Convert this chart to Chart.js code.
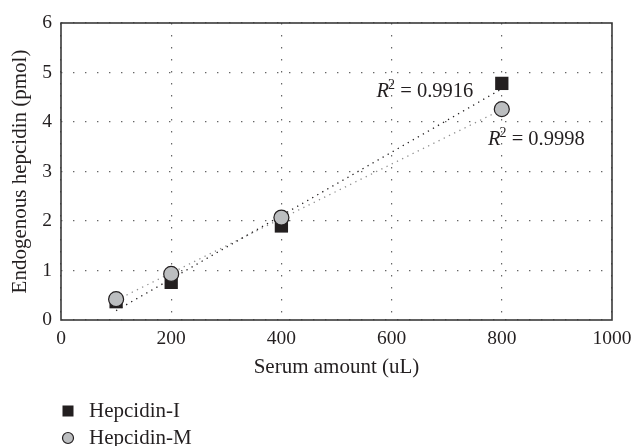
<!DOCTYPE html>
<html>
<head>
<meta charset="utf-8">
<script src="https://cdn.jsdelivr.net/npm/chart.js@4.4.0/dist/chart.umd.min.js"></script>
<style>
  html, body { margin: 0; padding: 0; background: #fff; }
  #wrap { width: 634px; height: 446px; }
</style>
</head>
<body>
<div id="wrap"><canvas id="chart"></canvas></div>
<script>
// values
var serumAmount = [100, 200, 400, 800];
var hepcidinI = [0.37, 0.76, 1.90, 4.78];
var hepcidinM = [0.42, 0.93, 2.07, 4.26];
// trend line end points
var trendX = [100, 800];
var trendI = [0.19, 4.67];
var trendM = [0.40, 4.25];
var r2Labels = ['0.9916', '0.9998'];

var ink = '#231f20';
var grey = '#bcbec0';
var serif = "'Liberation Serif', 'DejaVu Serif', serif";

function toPoints(xs, ys) {
  return xs.map(function(x, i) { return { x: x, y: ys[i] }; });
}

// box round the plot area
var boxPlugin = {
  id: 'box',
  afterDatasetsDraw: function(chart) {
    var a = chart.chartArea, ctx = chart.ctx;
    ctx.save();
    ctx.strokeStyle = '#3a3a3a';
    ctx.lineWidth = 1.6;
    ctx.strokeRect(a.left, a.top, a.right - a.left, a.bottom - a.top);
    ctx.restore();
  }
};

// R^2 labels next to the fits
var r2Plugin = {
  id: 'r2',
  afterDatasetsDraw: function(chart) {
    var ctx = chart.ctx, xs = chart.scales.x, ys = chart.scales.y;
    function label(txt, x, y, align) {
      ctx.save();
      ctx.fillStyle = ink;
      ctx.textBaseline = 'alphabetic';
      var big = 'italic 20.5px ' + serif, small = '14px ' + serif, norm = '20.5px ' + serif;
      ctx.font = big; var wR = ctx.measureText('R').width;
      ctx.font = small; var w2 = ctx.measureText('2').width;
      ctx.font = norm; var rest = ' = ' + txt; var wRest = ctx.measureText(rest).width;
      var total = wR + w2 + wRest;
      var px = xs.getPixelForValue(x), py = ys.getPixelForValue(y);
      if (align === 'right') px -= total;
      ctx.font = big; ctx.fillText('R', px, py);
      ctx.font = small; ctx.fillText('2', px + wR - 1, py - 8);
      ctx.font = norm; ctx.fillText(rest, px + wR + w2 - 1, py);
      ctx.restore();
    }
    label(r2Labels[0], 750, 4.5, 'right');
    label(r2Labels[1], 775, 3.54, 'left');
  }
};

// legend under the chart, stacked
var legendPlugin = {
  id: 'stackLegend',
  afterDraw: function(chart) {
    var ctx = chart.ctx;
    var items = chart.data.datasets.filter(function(d) { return !d.isTrend; });
    items.sort(function(a, b) { return a.legendRank - b.legendRank; });
    items.forEach(function(d, i) {
      var cy = 411 + i * 27, cx = 68;
      ctx.save();
      ctx.fillStyle = d.backgroundColor;
      ctx.strokeStyle = d.borderColor;
      ctx.lineWidth = 1.2;
      if (d.pointStyle === 'rect') {
        ctx.fillRect(cx - 5.5, cy - 5.5, 11, 11);
      } else {
        ctx.beginPath();
        ctx.arc(cx, cy, 5.5, 0, Math.PI * 2);
        ctx.fill();
        ctx.stroke();
      }
      ctx.fillStyle = ink;
      ctx.font = '21px ' + serif;
      ctx.textBaseline = 'middle';
      ctx.fillText(d.label, 89, cy);
      ctx.restore();
    });
  }
};

var ctx = document.getElementById('chart').getContext('2d');

new Chart(ctx, {
  type: 'scatter',
  data: {
    datasets: [{
      label: 'Hepcidin-M',
      data: toPoints(serumAmount, hepcidinM),
      pointStyle: 'circle',
      pointRadius: 7.5,
      pointHoverRadius: 7.5,
      backgroundColor: grey,
      borderColor: ink,
      borderWidth: 1.2,
      order: 0,
      legendRank: 1,
    }, {
      label: 'Hepcidin-I',
      data: toPoints(serumAmount, hepcidinI),
      pointStyle: 'rect',
      pointRadius: 9.4,
      pointHoverRadius: 9.4,
      backgroundColor: ink,
      borderColor: ink,
      borderWidth: 0,
      order: 1,
      legendRank: 0,
    }, {
      label: 'Trend I',
      isTrend: true,
      data: toPoints(trendX, trendI),
      showLine: true,
      pointRadius: 0,
      borderColor: ink,
      borderWidth: 1.3,
      borderDash: [1.3, 4.5],
      order: 2,
    }, {
      label: 'Trend M',
      isTrend: true,
      data: toPoints(trendX, trendM),
      showLine: true,
      pointRadius: 0,
      borderColor: '#8f8f8f',
      borderWidth: 1.3,
      borderDash: [1.3, 4.5],
      order: 3,
    }]
  },
  options: {
    responsive: true,
    maintainAspectRatio: false,
    animation: false,
    events: [],
    layout: { padding: { left: 0, right: 22, top: 23, bottom: 66 } },
    plugins: {
      legend: { display: false },
      tooltip: { enabled: false },
    },
    scales: {
      x: {
        type: 'linear',
        min: 0,
        max: 1000,
        ticks: { stepSize: 200, color: ink, padding: 7, font: { family: serif, size: 19.5 },
          callback: function(v) { return String(v); } },
        grid: { color: '#666', lineWidth: 1.2, drawTicks: false },
        border: { display: false, dash: [1.4, 10.6] },
        title: { display: true, text: 'Serum amount (uL)', color: ink, padding: { top: 0, bottom: 0 }, font: { family: serif, size: 21 } },
        afterFit: function(scale) {
          scale.height = 60;
          scale.paddingLeft = 0;
          scale.paddingRight = 0;
        }
      },
      y: {
        min: 0,
        max: 6,
        ticks: { stepSize: 1, color: ink, padding: 9, font: { family: serif, size: 19.5 } },
        grid: { color: '#666', lineWidth: 1.2, drawTicks: false },
        border: { display: false, dash: [1.4, 10.6] },
        title: { display: true, text: 'Endogenous hepcidin (pmol)', color: ink, padding: { top: 8, bottom: 0 }, font: { family: serif, size: 21 } },
        afterFit: function(scale) {
          scale.width = 61;
          scale.paddingTop = 0;
          scale.paddingBottom = 0;
        }
      }
    }
  },
  plugins: [boxPlugin, r2Plugin, legendPlugin]
});
</script>
</body>
</html>
